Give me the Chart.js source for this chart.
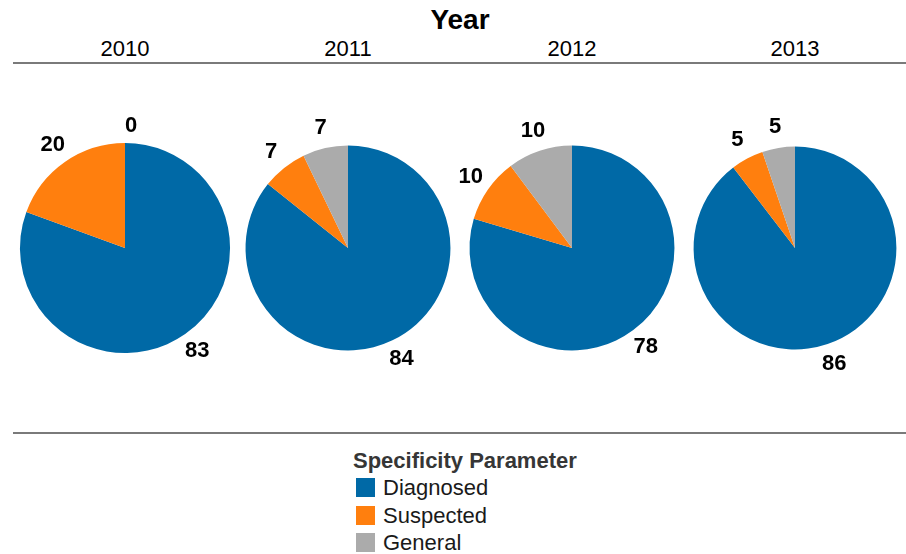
<!DOCTYPE html>
<html>
<head>
<meta charset="utf-8">
<script src="https://cdn.jsdelivr.net/npm/chart.js@4"></script>
<style>
  html, body { margin: 0; padding: 0; background: #fff; }
  body { width: 906px; height: 554px; position: relative; overflow: hidden; font-family: "Liberation Sans", Arial, sans-serif; }
  .abs { position: absolute; }
  #title { left: 0; width: 920px; top: 4px; text-align: center; font-weight: bold; font-size: 28px; color: #000; }
  .year { top: 36px; width: 120px; text-align: center; font-size: 22px; color: #000; }
  .rule { left: 13px; width: 893px; height: 2px; background: #7a7a7a; }
  canvas.pie { position: absolute; }
  #legendTitle { left: 353px; top: 448px; font-weight: bold; font-size: 22px; color: #363636; }
  .item { left: 356px; font-size: 22px; color: #1a1a1a; height: 20px; line-height: 20px; }
  .box { display: inline-block; width: 19px; height: 19px; vertical-align: top; margin-right: 8px; }
</style>
</head>
<body>
<div id="title" class="abs">Year</div>
<div class="abs rule" style="top:62px"></div>
<div class="abs rule" style="top:432px"></div>
<div id="legendTitle" class="abs">Specificity Parameter</div>

<script>
// ---- data ----
const years = ["2010", "2011", "2012", "2013"];
const categories = ["Diagnosed", "Suspected", "General"];
const diagnosed = [83, 84, 78, 86];
const suspected = [20, 7, 10, 5];
const general   = [0, 7, 10, 5];
const colors = ["#0069a6", "#ff7f0e", "#ababab"];

// ---- layout ----
const centersX = [125, 348, 572, 795];
const centerY = 248;
const canvasW = 250, canvasH = 300;

// year labels
years.forEach((y, i) => {
  const d = document.createElement('div');
  d.className = 'abs year';
  d.style.left = (centersX[i] - 60) + 'px';
  d.textContent = y;
  document.body.appendChild(d);
});

// legend items
categories.forEach((c, i) => {
  const d = document.createElement('div');
  d.className = 'abs item';
  d.style.top = (478 + i * 27.5) + 'px';
  d.innerHTML = '<span class="box" style="background:' + colors[i] + '"></span>' + c;
  document.body.appendChild(d);
});

const labelPlugin = {
  id: 'outerLabels',
  afterDatasetsDraw(chart) {
    const ctx = chart.ctx;
    const meta = chart.getDatasetMeta(0);
    const data = chart.data.datasets[0].data;
    ctx.save();
    ctx.font = 'bold 22px "Liberation Sans", Arial, sans-serif';
    ctx.fillStyle = '#000';
    ctx.textAlign = 'center';
    ctx.textBaseline = 'middle';
    meta.data.forEach((arc, i) => {
      const p = arc.getProps(['x', 'y', 'startAngle', 'endAngle', 'outerRadius'], true);
      const mid = (p.startAngle + p.endAngle) / 2;
      const r = p.outerRadius + 21;
      let lx = p.x + Math.cos(mid) * r;
      let ly = p.y + Math.sin(mid) * r;
      if (data[i] === 0) { lx += 6; ly += 4; }
      ctx.fillText(String(data[i]), lx, ly);
    });
    ctx.restore();
  }
};

years.forEach((y, i) => {
  const cv = document.createElement('canvas');
  cv.className = 'pie';
  cv.width = canvasW; cv.height = canvasH;
  cv.style.width = canvasW + 'px'; cv.style.height = canvasH + 'px';
  cv.style.left = (centersX[i] - canvasW / 2) + 'px';
  cv.style.top = (centerY - canvasH / 2) + 'px';
  document.body.appendChild(cv);
  const vals = [diagnosed[i], suspected[i], general[i]];
  const total = vals.reduce((a, b) => a + b, 0);
  new Chart(cv, {
    type: 'pie',
    data: {
      labels: categories,
      datasets: [{ data: vals, backgroundColor: colors, borderWidth: 0 }]
    },
    options: {
      responsive: false,
      animation: false,
      devicePixelRatio: 1,
      radius: 10.35 * Math.sqrt(total),
      layout: { padding: 0 },
      plugins: { legend: { display: false }, tooltip: { enabled: false } }
    },
    plugins: [labelPlugin]
  });
});
</script>
</body>
</html>
